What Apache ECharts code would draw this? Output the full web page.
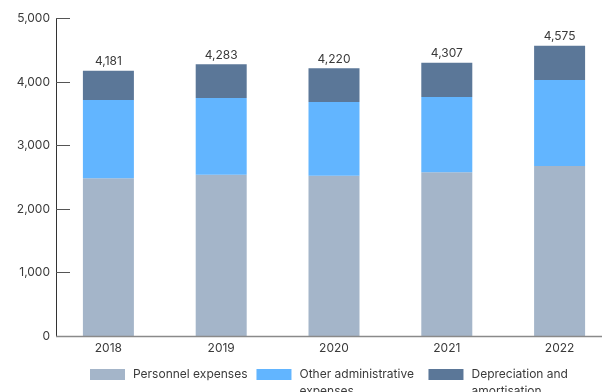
<!DOCTYPE html>
<html>
<head>
<meta charset="utf-8">
<script src="https://cdn.jsdelivr.net/npm/echarts@6/dist/echarts.min.js"></script>
<style>
  html, body { margin: 0; padding: 0; background: #ffffff; }
  #chart { width: 616px; height: 392px; }
</style>
</head>
<body>
<div id="chart"></div>
<script>
// Administrative expenses by year (stacked)
const years = ['2018', '2019', '2020', '2021', '2022'];
const personnel = [2485, 2542, 2526, 2580, 2679];
const otherAdmin = [1234, 1208, 1161, 1186, 1355];
const depreciation = [462, 533, 533, 541, 541];
const yTicks = { min: 0, max: 5000, interval: 1000 };

const seriesNames = ['Personnel expenses', 'Other administrative expenses', 'Depreciation and amortisation'];
const colors = ['#a4b5c9', '#62b5ff', '#5b7798'];

const FONT = 'Inter, "Noto Sans", sans-serif';
const TEXT = '#3a3a3a';

const chart = echarts.init(document.getElementById('chart'), null, { renderer: 'canvas' });

function stackTotal(i) {
  return personnel[i] + otherAdmin[i] + depreciation[i];
}

// Wrapped legend labels: a leading blank line keeps the first text line level with the swatch
const wrapText = { width: 120, overflow: 'break' };

const option = {
  animation: false,
  color: colors,
  textStyle: { fontFamily: FONT },
  grid: { left: 52, top: 18.7, width: 565, bottom: 56, containLabel: false },
  xAxis: {
    type: 'category',
    data: years,
    axisLine: { show: false },
    axisTick: { show: false },
    axisLabel: { color: TEXT, fontSize: 12, fontFamily: FONT, margin: 6 }
  },
  yAxis: {
    type: 'value',
    min: yTicks.min,
    max: yTicks.max,
    interval: yTicks.interval,
    offset: -4,
    splitLine: { show: false },
    axisLine: { show: true, lineStyle: { color: '#333333', width: 1 } },
    axisTick: { show: true, inside: true, length: 14, lineStyle: { color: '#555555', width: 1 } },
    axisLabel: {
      color: TEXT, fontSize: 12, fontFamily: FONT, margin: 6,
      formatter: v => v.toLocaleString('en-US')
    }
  },
  legend: {
    left: 85,
    top: 344,
    padding: 5,
    itemWidth: 35,
    itemHeight: 11,
    itemGap: 9,
    icon: 'rect',
    textStyle: { color: TEXT, fontSize: 12, fontFamily: FONT, lineHeight: 17, padding: [0, 0, 0, 3] },
    formatter: name => (name === seriesNames[0] ? name : '\n' + name),
    data: [
      { name: seriesNames[0] },
      { name: seriesNames[1], textStyle: wrapText },
      { name: seriesNames[2], textStyle: wrapText }
    ]
  },
  series: [
    { name: seriesNames[0], type: 'bar', stack: 'total', barWidth: 51, data: personnel },
    { name: seriesNames[1], type: 'bar', stack: 'total', barWidth: 51, data: otherAdmin },
    {
      name: seriesNames[2], type: 'bar', stack: 'total', barWidth: 51, data: depreciation,
      label: {
        show: true,
        position: 'top',
        distance: 3,
        color: TEXT,
        fontSize: 12,
        fontFamily: FONT,
        formatter: p => stackTotal(p.dataIndex).toLocaleString('en-US')
      }
    }
  ]
};

chart.setOption(option);

// Baseline drawn along the value-axis zero, spanning from the y-axis to just past the last bar
const zeroY = chart.convertToPixel({ yAxisIndex: 0 }, 0);
chart.setOption({
  graphic: [{
    type: 'line',
    silent: true,
    z: 10,
    shape: { x1: 56, y1: Math.round(zeroY) + 0.5, x2: 602, y2: Math.round(zeroY) + 0.5 },
    style: { stroke: '#8a8a8a', lineWidth: 1.5 }
  }]
});
</script>
</body>
</html>
